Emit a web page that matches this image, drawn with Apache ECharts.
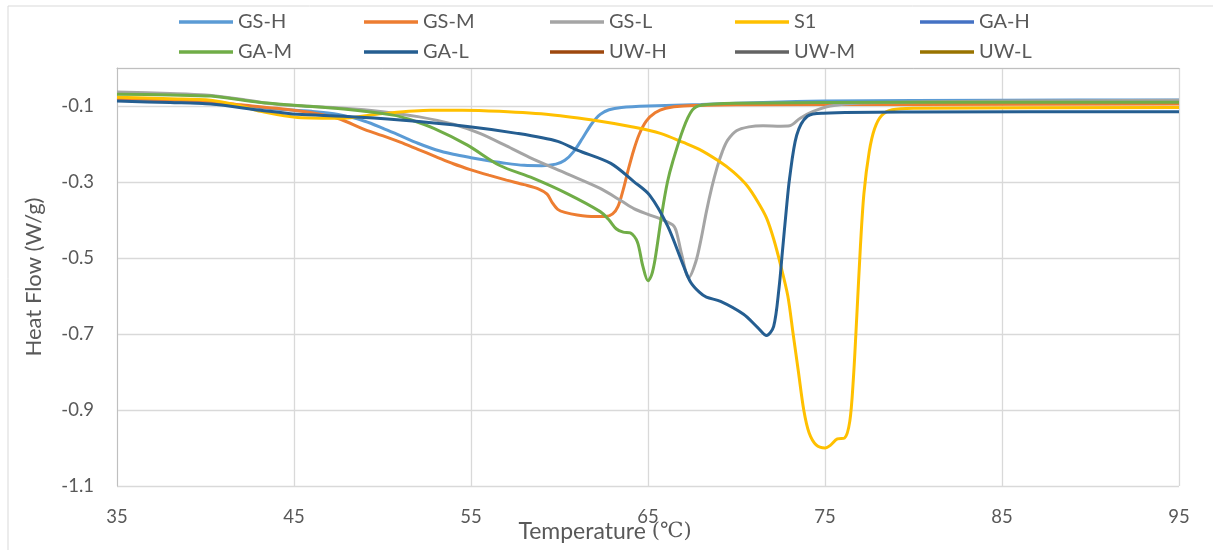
<!DOCTYPE html>
<html>
<head>
<meta charset="utf-8">
<script src="https://cdn.jsdelivr.net/npm/echarts@6/dist/echarts.min.js"></script>
<style>
  html, body { margin: 0; padding: 0; background: #fff; }
  #chart { width: 1213px; height: 550px; }
</style>
</head>
<body>
<div id="chart"></div>
<script>
// series names, legend order (two rows of five)
var seriesNames = ['GS-H', 'GS-M', 'GS-L', 'S1', 'GA-H', 'GA-M', 'GA-L', 'UW-H', 'UW-M', 'UW-L'];
var seriesColors = ['#5b9bd5', '#ed7d31', '#a5a5a5', '#ffc000', '#4472c4', '#70ad47', '#255e91', '#9e480e', '#636363', '#997300'];
var xTicks = [35, 45, 55, 65, 75, 85, 95];

// [temperature, heat flow]
var gsH = [[35,-0.085],[38,-0.089],[40,-0.093],[42,-0.1],[44,-0.108],[46,-0.114],[47.5,-0.122],[49,-0.14],[50,-0.158],[51,-0.178],[52,-0.198],[53,-0.215],[54,-0.227],[55,-0.236],[56,-0.244],[57,-0.251],[58,-0.256],[59,-0.257],[59.8,-0.253],[60.3,-0.243],[60.8,-0.22],[61.3,-0.185],[61.8,-0.148],[62.3,-0.122],[62.8,-0.11],[63.5,-0.104],[65,-0.1],[68,-0.096],[72,-0.09],[75,-0.087],[85,-0.085],[95,-0.084]];
var gsM = [[35,-0.08],[38,-0.084],[40,-0.088],[42,-0.097],[44,-0.106],[46,-0.118],[47.5,-0.133],[49,-0.162],[50,-0.178],[51,-0.195],[52,-0.214],[53,-0.233],[54,-0.252],[55,-0.268],[56,-0.282],[57,-0.295],[58,-0.307],[58.8,-0.318],[59.3,-0.332],[59.6,-0.355],[59.9,-0.372],[60.3,-0.38],[61,-0.387],[62,-0.391],[62.6,-0.391],[63,-0.384],[63.3,-0.365],[63.6,-0.32],[63.9,-0.265],[64.2,-0.215],[64.5,-0.175],[64.9,-0.14],[65.4,-0.118],[66,-0.106],[67,-0.1],[70,-0.097],[80,-0.096],[95,-0.095]];
var gsL = [[35,-0.063],[38,-0.067],[40,-0.071],[42,-0.082],[43.5,-0.093],[45,-0.099],[47.8,-0.106],[50,-0.115],[52,-0.128],[54,-0.148],[55.5,-0.172],[57,-0.205],[58.3,-0.235],[60.4,-0.278],[62.3,-0.317],[63.5,-0.35],[64.2,-0.37],[65,-0.385],[65.7,-0.397],[66.4,-0.413],[66.6,-0.43],[66.9,-0.49],[67.3,-0.552],[67.7,-0.51],[68,-0.45],[68.3,-0.378],[68.6,-0.315],[68.9,-0.262],[69.2,-0.22],[69.5,-0.19],[70,-0.165],[70.7,-0.155],[71.5,-0.152],[72.5,-0.153],[73,-0.152],[73.6,-0.132],[74.3,-0.115],[75.3,-0.1],[77,-0.092],[85,-0.087],[95,-0.085]];
var s1 = [[35,-0.077],[38,-0.081],[40.3,-0.085],[42,-0.1],[43.1,-0.114],[45.2,-0.13],[47.8,-0.132],[50,-0.12],[52.7,-0.111],[54.5,-0.111],[56.6,-0.114],[59.5,-0.123],[62.3,-0.14],[64,-0.154],[65.7,-0.172],[67,-0.196],[67.9,-0.214],[69,-0.245],[69.8,-0.273],[70.6,-0.31],[71.2,-0.352],[71.7,-0.395],[72.1,-0.45],[72.5,-0.52],[72.9,-0.6],[73.2,-0.7],[73.5,-0.8],[73.8,-0.9],[74.1,-0.96],[74.5,-0.992],[75,-1.0],[75.3,-0.993],[75.7,-0.976],[76.1,-0.974],[76.4,-0.93],[76.6,-0.82],[76.8,-0.65],[77,-0.47],[77.2,-0.33],[77.5,-0.22],[77.8,-0.16],[78.2,-0.125],[78.8,-0.11],[80,-0.106],[95,-0.104]];
var gaH = [];
var gaM = [[35,-0.069],[38,-0.071],[40.3,-0.074],[43,-0.09],[45,-0.098],[47.8,-0.108],[50.6,-0.124],[51.5,-0.135],[52.9,-0.159],[54.8,-0.203],[56.6,-0.256],[58.5,-0.29],[60.4,-0.33],[62.3,-0.378],[62.8,-0.4],[63.2,-0.423],[63.6,-0.432],[64,-0.434],[64.4,-0.458],[64.7,-0.52],[65,-0.56],[65.2,-0.545],[65.4,-0.503],[65.8,-0.378],[66.1,-0.3],[66.4,-0.246],[67,-0.159],[67.5,-0.111],[68,-0.098],[70,-0.093],[80,-0.09],[95,-0.09]];
var gaL = [[35,-0.087],[38,-0.091],[40.3,-0.095],[43.1,-0.111],[45.2,-0.122],[47.8,-0.127],[51,-0.137],[54.8,-0.154],[57.6,-0.172],[59.9,-0.193],[61,-0.216],[62.9,-0.251],[64.2,-0.299],[65.1,-0.335],[66.1,-0.415],[67,-0.52],[67.4,-0.563],[67.9,-0.59],[68.3,-0.603],[69.1,-0.614],[70.4,-0.648],[71.2,-0.683],[71.7,-0.704],[72.1,-0.68],[72.4,-0.58],[72.6,-0.48],[72.8,-0.38],[73,-0.29],[73.4,-0.177],[74,-0.127],[74.9,-0.119],[80,-0.116],[95,-0.115]];
var uwH = [];
var uwM = [];
var uwL = [];

var seriesData = [gsH, gsM, gsL, s1, gaH, gaM, gaL, uwH, uwM, uwL];

var chart = echarts.init(document.getElementById('chart'));

// one legend per entry so the columns line up like the original
var legendCols = [179, 364, 550, 735, 920];
var legendRows = [12, 42];
var legends = seriesNames.map(function (name, i) {
  return {
    left: legendCols[i % 5],
    top: legendRows[Math.floor(i / 5)],
    icon: 'rect',
    itemWidth: 54,
    itemHeight: 3.5,
    padding: 0,
    data: [name],
    textStyle: { fontFamily: 'Lato', fontSize: 20, color: '#595959' }
  };
});

var option = {
  animation: false,
  textStyle: { fontFamily: 'Lato' },
  graphic: [{
    type: 'rect',
    shape: { x: 8, y: 6, width: 1230, height: 560 },
    style: { fill: 'none', stroke: '#d9d9d9', lineWidth: 1 },
    silent: true
  }],
  legend: legends,
  grid: { left: 117, right: 34, top: 68, bottom: 64, outerBoundsMode: 'none', containLabel: false },
  xAxis: {
    type: 'value',
    min: xTicks[0],
    max: xTicks[xTicks.length - 1],
    interval: 10,
    name: 'Temperature {s|(℃)}',
    nameLocation: 'middle',
    nameGap: 34,
    nameMoveOverlap: false,
    nameTextStyle: {
      fontSize: 23, color: '#595959', padding: [0, 86, 0, 0],
      rich: { s: { fontFamily: 'DejaVu Serif', fontSize: 21, color: '#595959' } }
    },
    axisLine: { lineStyle: { color: '#bfbfbf', width: 1 } },
    axisTick: { show: false },
    axisLabel: { fontSize: 18.5, color: '#595959', margin: 22 },
    splitLine: { show: true, lineStyle: { color: '#d9d9d9', width: 1.3 } }
  },
  yAxis: {
    type: 'value',
    min: -1.1,
    max: 0,
    interval: 0.2,
    name: 'Heat Flow (W/g)',
    nameLocation: 'middle',
    nameGap: 72,
    nameMoveOverlap: false,
    nameTextStyle: { fontSize: 22, color: '#595959' },
    axisLine: { show: true, lineStyle: { color: '#bfbfbf', width: 1 } },
    axisTick: { show: false },
    axisLabel: {
      fontSize: 18.5, color: '#595959', margin: 23,
      formatter: function (v) { return v > -0.05 ? '' : v.toFixed(1); }
    },
    splitLine: { show: true, lineStyle: { color: '#d9d9d9', width: 1.3 } }
  },
  series: seriesNames.map(function (name, i) {
    return {
      name: name,
      type: 'line',
      data: seriesData[i],
      symbol: 'none',
      smooth: 0.3,
      color: seriesColors[i],
      lineStyle: { width: 3, color: seriesColors[i] }
    };
  })
};

chart.setOption(option);
</script>
</body>
</html>
